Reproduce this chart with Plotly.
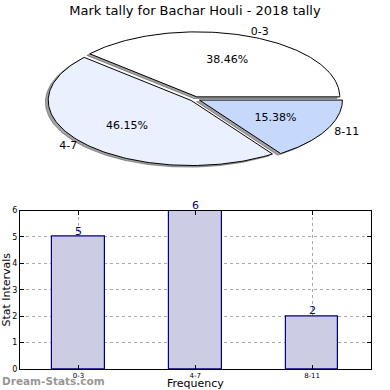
import numpy as np
import plotly.graph_objects as go

categories = ["0-3", "4-7", "8-11"]
values = [5, 6, 2]
slice_colors = ["#FFFFFF", "#EAF0FD", "#C6D9FD"]
title_text = "Mark tally for Bachar Houli - 2018 tally"

W, H = 390, 390
# pie geometry (pixels)
cx, cy = 195, 99
ax_px, by_px = 143, 65
explode = 0.035
shadow_off = (-0.02, -0.025)

fig = go.Figure()

total = sum(values)
start = 0.0
slices = []
for cat, v, col in zip(categories, values, slice_colors):
    ang = 360.0 * v / total
    t = np.radians(np.linspace(start, start + ang, 120))
    mid = np.radians(start + ang / 2)
    ex, ey = explode * np.cos(mid), explode * np.sin(mid)
    xs = np.concatenate([[ex], ex + np.cos(t), [ex]])
    ys = np.concatenate([[ey], ey + np.sin(t), [ey]])
    slices.append((cat, v, col, xs, ys, mid, ex, ey))
    start += ang

# shadows
for cat, v, col, xs, ys, mid, ex, ey in slices:
    fig.add_trace(go.Scatter(x=xs + shadow_off[0], y=ys + shadow_off[1], xaxis="x2", yaxis="y2",
                             mode="lines", fill="toself", fillcolor="rgba(70,70,70,0.5)",
                             line=dict(color="rgba(70,70,70,0.5)", width=1),
                             hoverinfo="skip", showlegend=False))
for cat, v, col, xs, ys, mid, ex, ey in slices:
    fig.add_trace(go.Scatter(x=xs, y=ys, xaxis="x2", yaxis="y2",
                             mode="lines", fill="toself", fillcolor=col,
                             line=dict(color="black", width=1),
                             hoverinfo="skip", showlegend=False))
# labels
for cat, v, col, xs, ys, mid, ex, ey in slices:
    pct = f"{100.0 * v / total:.2f}%"
    fig.add_trace(go.Scatter(x=[ex + 0.6 * np.cos(mid)], y=[ey + 0.6 * np.sin(mid)],
                             xaxis="x2", yaxis="y2", mode="text", text=[pct],
                             textfont=dict(family="DejaVu Sans", size=11, color="black"),
                             hoverinfo="skip", showlegend=False))
    lx, ly = 1.1 * np.cos(mid), 1.1 * np.sin(mid)
    pos = ("middle right" if lx > 0 else "middle left")
    fig.add_trace(go.Scatter(x=[lx], y=[ly], xaxis="x2", yaxis="y2", mode="text", text=[cat],
                             textposition=pos,
                             textfont=dict(family="DejaVu Sans", size=11, color="black"),
                             hoverinfo="skip", showlegend=False))

# bars
fig.add_trace(go.Bar(x=categories, y=values, width=0.45,
                     marker=dict(color="#CCCCE5", line=dict(color="#000080", width=1.2)),
                     cliponaxis=False, showlegend=False, hoverinfo="skip"))

bar_notes = [dict(x=c, y=v, xref="x", yref="y", text=str(v), showarrow=False,
                  yanchor="bottom", yshift=-3,
                  font=dict(family="DejaVu Sans", size=11, color="#000080"))
             for c, v in zip(categories, values)]

fig.update_layout(
    width=W, height=H, margin=dict(l=0, r=0, t=0, b=0, autoexpand=False),
    paper_bgcolor="white", plot_bgcolor="rgba(0,0,0,0)",
    font=dict(family="DejaVu Sans", color="black"),
    bargap=0,
    title=dict(text=title_text, x=0.5, xanchor="center", y=1 - 10 / H, yanchor="middle",
               font=dict(family="DejaVu Sans", size=13, color="black"), automargin=False),
    xaxis=dict(domain=[20 / W, 370.5 / W], range=[-0.5, 2.5], showline=True, mirror="all",
               linecolor="black", linewidth=1, ticks="inside", ticklen=4, tickcolor="black",
               showgrid=True, gridcolor="#aaaaaa", griddash="dot", gridwidth=1,
               tickfont=dict(family="DejaVu Sans", size=7), layer="above traces",
               zeroline=False, anchor="y", automargin=False),
    yaxis=dict(domain=[(H - 369) / H, (H - 210.5) / H], range=[0, 6], dtick=1,
               showline=True, mirror="all", linecolor="black", linewidth=1,
               ticks="inside", ticklen=4, tickcolor="black",
               showgrid=True, gridcolor="#aaaaaa", griddash="dot", gridwidth=1,
               tickfont=dict(family="DejaVu Sans", size=8), layer="above traces",
               title=dict(text="Stat Intervals", font=dict(size=11), standoff=0), zeroline=False,
               anchor="x", automargin=False),
    xaxis2=dict(domain=[0, 1], range=[-cx / ax_px, (W - cx) / ax_px], visible=False,
                anchor="y2", fixedrange=True, automargin=False),
    yaxis2=dict(domain=[0, 1], range=[-(H - cy) / by_px, cy / by_px], visible=False,
                anchor="x2", fixedrange=True, automargin=False),
    annotations=bar_notes + [
        dict(text="Frequency", x=0.5, y=0, xref="paper", yref="paper", xanchor="center",
             yanchor="bottom", yshift=-2, showarrow=False,
             font=dict(family="DejaVu Sans", size=11, color="black")),
        dict(text="<b>Dream-Stats.com</b>", x=0, y=(H - 381) / H, xref="paper", yref="paper",
             xanchor="left", yanchor="middle", showarrow=False,
             font=dict(family="DejaVu Sans", size=10.5, color="rgba(130,130,130,0.85)"))],
)

fig.write_html("out.html", config={"displayModeBar": False},
               post_script="document.body.style.margin='0';document.body.style.padding='0';")
